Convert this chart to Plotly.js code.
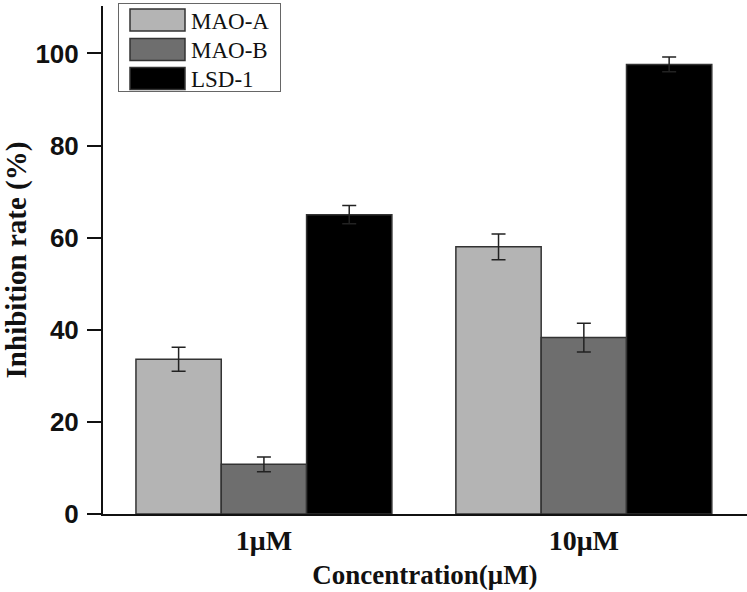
<!DOCTYPE html>
<html>
<head>
<meta charset="utf-8">
<script src="https://cdn.plot.ly/plotly-3.0.1.min.js"></script>
<style>html,body{margin:0;padding:0;background:#fff;}#chart{width:747px;height:592px;}</style>
</head>
<body>
<div id="chart"></div>
<script>
var categories = ['1μM', '10μM'];
var seriesNames = ['MAO-A', 'MAO-B', 'LSD-1'];
var maoA = [33.6, 58.0];
var maoAErr = [2.6, 2.8];
var maoB = [10.8, 38.3];
var maoBErr = [1.6, 3.1];
var lsd1 = [65.0, 97.6];
var lsd1Err = [2.0, 1.6];
var yTicks = [0, 20, 40, 60, 80, 100];

var colors = ['#b4b4b4', '#6e6e6e', '#000000'];
var values = [maoA, maoB, lsd1];
var errs = [maoAErr, maoBErr, lsd1Err];
var serif = 'Liberation Serif, Times New Roman, serif';
var sans = 'Liberation Sans, Arial, sans-serif';

var traces = values.map(function (v, i) {
  return {
    type: 'bar',
    name: seriesNames[i],
    x: categories,
    y: v,
    marker: {color: colors[i], line: {color: '#333333', width: 1.5}},
    error_y: {type: 'data', array: errs[i], visible: true, color: '#222222', thickness: 1.5, width: 7}
  };
});

var layout = {
  width: 747, height: 592,
  margin: {l: 103, r: 0, t: 6, b: 78},
  paper_bgcolor: '#ffffff', plot_bgcolor: '#ffffff',
  barmode: 'group', bargap: 0.2, bargroupgap: 0,
  showlegend: true,
  legend: {
    x: 0.0233, xref: 'paper', y: 1.006, yref: 'paper',
    xanchor: 'left', yanchor: 'top',
    bgcolor: '#ffffff', bordercolor: '#666666', borderwidth: 1.5,
    font: {family: serif, size: 23, color: '#111'},
    itemwidth: 60, tracegroupgap: 0
  },
  xaxis: {
    type: 'category', range: [-0.503, 1.51],
    showline: true, linecolor: '#111', linewidth: 2,
    ticks: '', showgrid: false, zeroline: false,
    tickfont: {family: serif, size: 28, color: '#111', weight: 'bold'},
    title: {text: 'Concentration(μM)', font: {family: serif, size: 27, color: '#111', weight: 'bold'}, standoff: 11}
  },
  yaxis: {
    range: [0, 110.3], tickvals: yTicks, ticktext: yTicks.map(String),
    showline: true, linecolor: '#111', linewidth: 2,
    ticks: 'outside', ticklen: 14, tickwidth: 2, tickcolor: '#111',
    ticklabelstandoff: 3,
    showgrid: false, zeroline: false,
    tickfont: {family: sans, size: 26, color: '#111', weight: 'bold'},
    title: {text: 'Inhibition rate (%)', font: {family: serif, size: 29, color: '#111', weight: 'bold'}, standoff: 2}
  }
};

Plotly.newPlot('chart', traces, layout, {displayModeBar: false, staticPlot: true}).then(function (gd) {
  var leg = gd.querySelector('g.legend');
  if (!leg) return;
  var sb = leg.querySelector('.scrollbox');
  if (sb) sb.removeAttribute('clip-path');
  var rows = [20, 49.5, 78.5];
  var items = leg.querySelectorAll('g.traces');
  items.forEach(function (g, i) {
    var p = g.querySelector('.legendpoints path');
    if (p) {
      var r = p.getBoundingClientRect();
      var cx = r.left + r.width / 2, cy = r.top + r.height / 2;
      var dx = 157.5 - cx;
      p.setAttribute('d', 'M' + (dx - 27.5) + ',-11H' + (dx + 27.5) + 'V11H' + (dx - 27.5) + 'Z');
      var m = /translate\(\s*([-\d.e]+)[ ,]+([-\d.e]+)/.exec(g.getAttribute('transform') || '');
      if (m) {
        g.setAttribute('transform', 'translate(' + m[1] + ',' + (+m[2] + rows[i] - cy) + ')');
      }
    }
    var t = g.querySelector('text.legendtext');
    if (t) {
      var tr = t.getBoundingClientRect();
      t.setAttribute('transform', 'translate(' + (191 - tr.left) + ',0)');
    }
  });
  var bg = leg.querySelector('rect.bg');
  if (bg) {
    var br = bg.getBoundingClientRect();
    bg.setAttribute('x', (+bg.getAttribute('x') || 0) + (118.5 - br.left));
    bg.setAttribute('y', (+bg.getAttribute('y') || 0) + (3.5 - br.top));
    bg.setAttribute('width', 162);
    bg.setAttribute('height', 88);
  }
});
</script>
</body>
</html>
